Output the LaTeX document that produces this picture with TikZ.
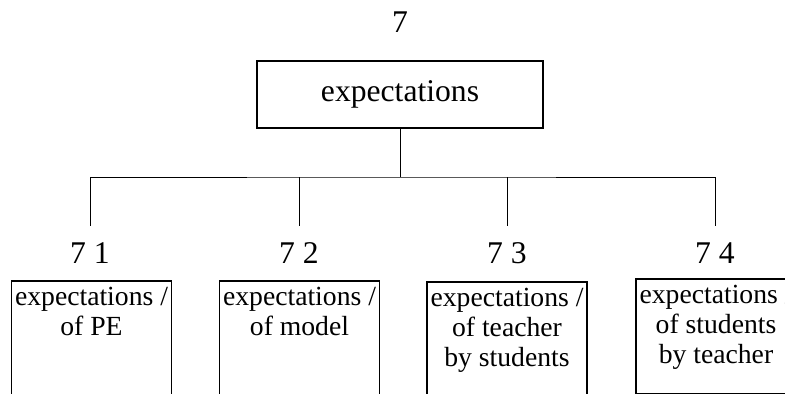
\documentclass[tikz,border=0pt]{standalone}
\usepackage{fontspec}
\setmainfont{Liberation Serif}
\usepackage{tikz}

\begin{document}
\begin{tikzpicture}[x=0.02cm,y=-0.02cm,
        mainbox/.style={shape=rectangle,draw=black,line width=1.1pt,minimum width=5.72cm,minimum height=1.34cm,font=\fontsize{18}{21}\selectfont},
        numlabel/.style={anchor=north,inner xsep=2pt,inner ysep=9.5pt,font=\fontsize{18}{21}\selectfont},
        subbox/.style={shape=rectangle,draw=black,line width=1.1pt,anchor=north,minimum width=3.2cm,minimum height=2.4cm},
        subtext/.style={anchor=north,align=center,inner sep=4pt,font=\fontsize{15.75}{17}\selectfont},
        link/.style={line width=0.5pt}]
            \clip (0,0) rectangle (785,394);
            \node[font=\fontsize{18}{21}\selectfont,anchor=base] (n) at (400,33) {7};
            \node[mainbox] (top) at (400,94.5) {expectations};
            \coordinate (bar) at (400,177);
            \node[numlabel] (n1) at (90,226) {7 1};
            \node[numlabel] (n2) at (299,226) {7 2};
            \node[numlabel] (n3) at (507,226) {7 3};
            \node[numlabel] (n4) at (715,226) {7 4};
            \node[subbox] (b1) at (91.5,280) {};
            \node[subbox] (b2) at (299.5,280) {};
            \node[subbox] (b3) at (507,281) {};
            \node[subbox,minimum height=2.3cm] (b4) at (716,278) {};
            \node[subtext] (t1) at (b1.north) {expectations /\\of PE};
            \node[subtext] (t2) at (b2.north) {expectations /\\of model};
            \node[subtext] (t3) at (b3.north) {expectations /\\of teacher\\by students};
            \node[subtext] (t4) at (b4.north) {expectations /\\of students\\by teacher};
            \draw [link] (top.south) -- (bar);
            \draw [link] (n1.north) |- (bar) -| (n4.north);
            \draw [link] (n2.north) -- (n2.north |- bar);
            \draw [link] (n3.north) -- (n3.north |- bar);
        \end{tikzpicture}
\end{document}
